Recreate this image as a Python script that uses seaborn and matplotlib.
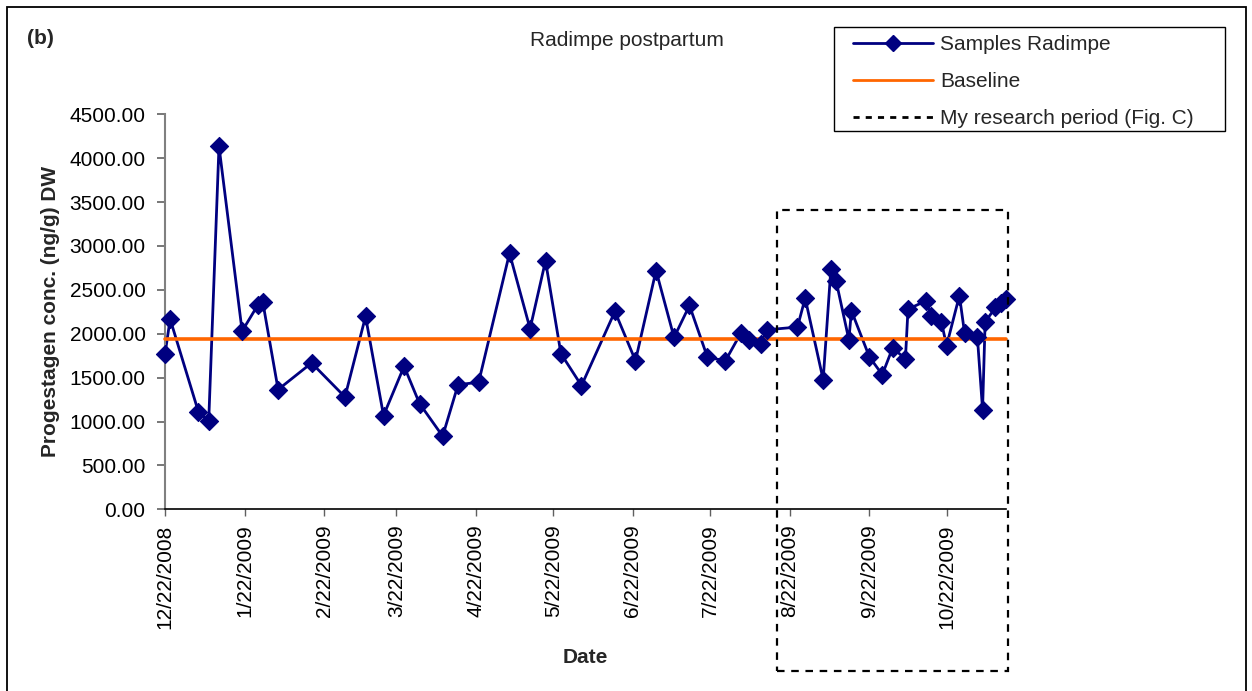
import matplotlib
matplotlib.use("Agg")
import matplotlib.pyplot as plt
import matplotlib.dates as mdates
import matplotlib.transforms as mtransforms
from matplotlib.lines import Line2D
from matplotlib.patches import Rectangle
import pandas as pd
import seaborn as sns

# Sample dates and progestagen concentrations (ng/g DW)
sample_dates = [
    "2008-12-22", "2008-12-24", "2009-01-04", "2009-01-08", "2009-01-12",
    "2009-01-21", "2009-01-27", "2009-01-29", "2009-02-04", "2009-02-17",
    "2009-03-02", "2009-03-10", "2009-03-17", "2009-03-25", "2009-03-31",
    "2009-04-09", "2009-04-15", "2009-04-23", "2009-05-05", "2009-05-13",
    "2009-05-19", "2009-05-25", "2009-06-02", "2009-06-15", "2009-06-23",
    "2009-07-01", "2009-07-08", "2009-07-14", "2009-07-21", "2009-07-28",
    "2009-08-03", "2009-08-06", "2009-08-11", "2009-08-13", "2009-08-25",
    "2009-08-28", "2009-09-04", "2009-09-07", "2009-09-09", "2009-09-14",
    "2009-09-15", "2009-09-22", "2009-09-27", "2009-10-01", "2009-10-06",
    "2009-10-07", "2009-10-14", "2009-10-16", "2009-10-20", "2009-10-22",
    "2009-10-27", "2009-10-29", "2009-11-03", "2009-11-05", "2009-11-06",
    "2009-11-10", "2009-11-12", "2009-11-14",
]
sample_values = [
    1769, 2167, 1110, 1003, 4136,
    2030, 2322, 2367, 1364, 1667,
    1280, 2197, 1068, 1629, 1205,
    833, 1420, 1447, 2917, 2057,
    2830, 1773, 1409, 2254, 1693,
    2720, 1958, 2322, 1731, 1693,
    2008, 1932, 1883, 2045, 2076,
    2405, 1477, 2739, 2606, 1932,
    2261, 1735, 1534, 1837, 1716,
    2280, 2375, 2197, 2133, 1864,
    2435, 2008, 1958, 1136, 2133,
    2299, 2349, 2394,
]
baseline_value = 1935
research_period = ("2009-08-17", "2009-11-15")

tick_dates = ["2008-12-22", "2009-01-22", "2009-02-22", "2009-03-22",
              "2009-04-22", "2009-05-22", "2009-06-22", "2009-07-22",
              "2009-08-22", "2009-09-22", "2009-10-22"]
y_ticks = [0, 500, 1000, 1500, 2000, 2500, 3000, 3500, 4000, 4500]

NAVY = "#000080"
ORANGE = "#FF6600"

sns.set_theme(style="white")
plt.rcParams["font.family"] = ["Liberation Sans", "DejaVu Sans"]
plt.rcParams["font.size"] = 15

df = pd.DataFrame({"date": pd.to_datetime(sample_dates), "value": sample_values})
df["baseline"] = baseline_value

fig = plt.figure(figsize=(12.52, 6.91), dpi=100)
W, H = 1252, 691
ax = fig.add_axes([165 / W, 1 - 509.3 / H, (1005.7 - 165) / W, (509.3 - 114.3) / H])

sns.lineplot(data=df, x="date", y="value", ax=ax, color=NAVY, linewidth=2.0,
             zorder=2, legend=False, clip_on=False)
sns.lineplot(data=df, x="date", y="baseline", ax=ax, color=ORANGE, linewidth=2.6,
             zorder=3, legend=False, clip_on=False)
sns.scatterplot(data=df, x="date", y="value", ax=ax, color=NAVY, marker="D",
                s=85, edgecolor=NAVY, linewidth=0.8, zorder=4, legend=False,
                clip_on=False)

ax.set_xlim(df["date"].iloc[0], df["date"].iloc[-1])
ax.set_ylim(0, 4500)
ax.set_yticks(y_ticks)
ax.set_yticklabels([f"{v:.2f}" for v in y_ticks], fontsize=15)
ticks = pd.to_datetime(tick_dates)
ax.set_xticks(ticks)
ax.set_xticklabels([f"{d.month}/{d.day}/{d.year}" for d in ticks],
                   rotation=90, fontsize=15)

for side in ("top", "right"):
    ax.spines[side].set_visible(False)
ax.spines["left"].set_color("#808080")
ax.spines["left"].set_linewidth(1.5)
ax.spines["bottom"].set_color("black")
ax.spines["bottom"].set_linewidth(1.2)
ax.tick_params(axis="y", direction="out", length=6, width=1.2, color="#606060",
               pad=8, left=True, labelcolor="black")
ax.tick_params(axis="x", direction="out", length=5, width=1.0, color="#606060",
               pad=6, bottom=True, labelcolor="black")
ax.grid(False)

ax.set_ylabel("Progestagen conc. (ng/g) DW", fontsize=15, fontweight="bold", va="center")
ax.yaxis.set_label_coords(-0.136, 0.5)
ax.set_xlabel("Date", fontsize=15, fontweight="bold", va="center")
ax.xaxis.set_label_coords(0.5, -0.375)

# research period frame (dates on x, axes fraction on y)
trans = mtransforms.blended_transform_factory(ax.transData, ax.transAxes)
x0 = mdates.date2num(pd.Timestamp(research_period[0]))
x1 = mdates.date2num(pd.Timestamp(research_period[1]))
ax.add_patch(Rectangle((x0, -0.409), x1 - x0, 0.758 + 0.409, transform=trans,
                       fill=False, edgecolor="black", linewidth=1.6,
                       linestyle=(0, (3.4, 3.0)), clip_on=False, zorder=5))

fig.text(627 / W, 1 - 41 / H, "Radimpe postpartum", ha="center", va="center", fontsize=15)
fig.text(27 / W, 1 - 39 / H, "(b)", ha="left", va="center", fontsize=15, fontweight="bold")

handles = [
    Line2D([], [], color=NAVY, linewidth=2.0, marker="D", markersize=8,
           markerfacecolor=NAVY, markeredgecolor=NAVY),
    Line2D([], [], color=ORANGE, linewidth=2.0),
    Line2D([], [], color="black", linewidth=2.0, linestyle=(0, (2.2, 2.2))),
]
labels = ["Samples Radimpe", "Baseline", "My research period (Fig. C)"]
leg = fig.legend(handles, labels, loc="upper left",
                 bbox_to_anchor=(840 / W, 1 - 22.5 / H), fontsize=15,
                 frameon=False,
                 handlelength=3.85, handletextpad=0.35, labelspacing=0.86,
                 borderpad=0.6, borderaxespad=0.0)

# legend frame
fig.add_artist(Rectangle((834 / W, 1 - 131 / H), (1225 - 834) / W, (131 - 27) / H,
                         transform=fig.transFigure, fill=False,
                         edgecolor="black", linewidth=1.0))

# outer chart border
fig.add_artist(Rectangle((7 / W, -0.01), (1246 - 7) / W, 1.01 - 7 / H,
                         transform=fig.transFigure, fill=False,
                         edgecolor="black", linewidth=1.3))

fig.savefig("out.png", dpi=100)
